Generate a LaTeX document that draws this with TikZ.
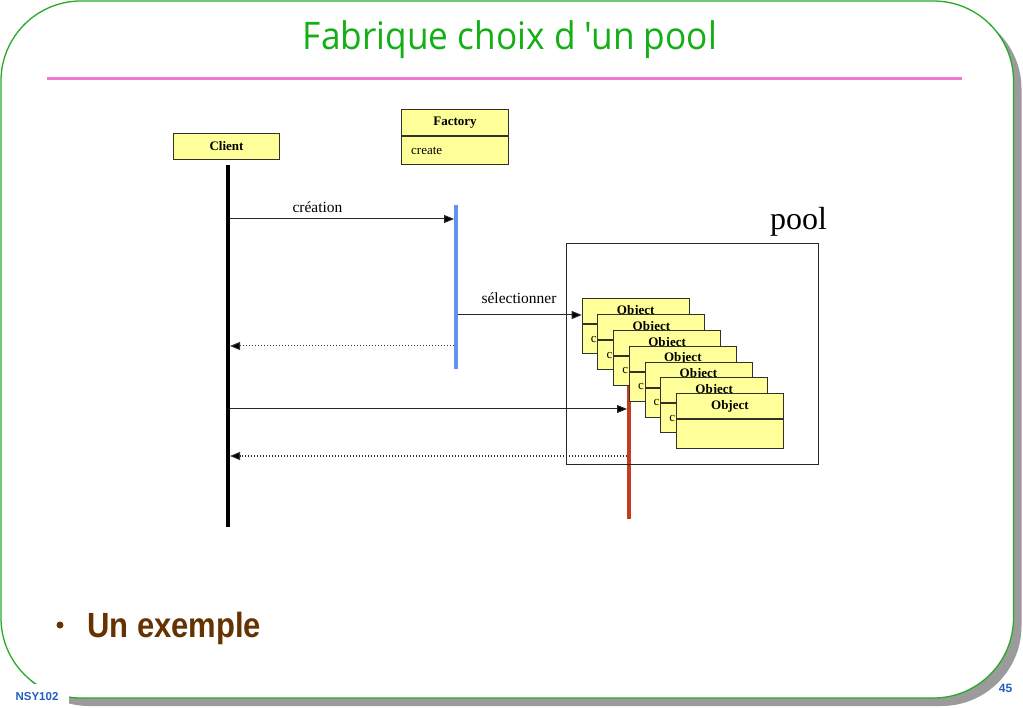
\documentclass[tikz,border=0pt]{standalone}
\usepackage{fontspec}
\setmainfont{Liberation Serif}
\newfontfamily\titlefont{Open Sans}
\newfontfamily\arialfont{Liberation Sans}
\usetikzlibrary{arrows.meta}
\definecolor{framegreen}{RGB}{40,170,40}
\definecolor{shadowgray}{RGB}{155,155,155}
\definecolor{rulepink}{RGB}{240,120,210}
\definecolor{titlegreen}{RGB}{20,175,20}
\definecolor{umlyellow}{RGB}{255,255,153}
\definecolor{boxborder}{RGB}{50,50,40}
\definecolor{lifeblue}{RGB}{100,145,240}
\definecolor{lifered}{RGB}{200,60,30}
\definecolor{bulletbrown}{RGB}{102,51,0}
\definecolor{footblue}{RGB}{30,95,190}
\tikzset{
  umlbox/.style={draw=boxborder, fill=umlyellow, line width=1pt, inner sep=0pt, font=\fontsize{13}{13}\selectfont},
  lifeline/.style={line width=4pt},
  msg/.style={line width=1pt, draw=black!85, -{Triangle[length=10pt,width=8pt,fill=black]}},
  ret/.style={line width=1pt, draw=black!80, dotted, -{Triangle[length=10pt,width=8pt,fill=black,sep=0pt]}},
  lbl/.style={font=\fontsize{15.5}{16}\selectfont, inner sep=0pt, anchor=base}
}
\begin{document}
\begin{tikzpicture}[x=1pt,y=-1pt]
\useasboundingbox (0,0) rectangle (1023,708);
% frame and shadow
\fill[shadowgray, rounded corners=80pt] (9,9) rectangle (1021.5,706);
\draw[framegreen, fill=white, line width=1.3pt, rounded corners=80pt] (1,1) rectangle (1013.5,698);
\draw[rulepink, line width=3pt] (47,78.5) -- (962,78.5);
% title
\node[anchor=base, inner sep=0pt, text=titlegreen] (title) at (510,50)
  {\resizebox{414pt}{\height}{\titlefont\fontsize{38}{40}\selectfont Fabrique choix d 'un pool}};
% lifelines (drawn first)
\coordinate (clTop) at (228,165);
\coordinate (clBot) at (228,527);
\coordinate (fTop) at (456,205);
\coordinate (fBot) at (456,369);
\coordinate (oTop) at (629,385);
\coordinate (oBot) at (629,519);
\draw[lifeline, black] (clTop) -- (clBot);
\draw[lifeline, lifeblue] (fTop) -- (fBot);
\draw[lifeline, lifered] (oTop) -- (oBot);
% pool
\draw[line width=1pt, black!85] (566,243.3) rectangle (818.3,464.3);
\node[lbl, font=\fontsize{32}{32}\selectfont] (poolLbl) at (798.5,230) {pool};
% client and factory
\node[umlbox, anchor=north west, minimum width=106pt, minimum height=26pt] (client) at (173,133) {\bfseries Client};
\node[umlbox, anchor=north west, minimum width=107pt, minimum height=26pt] (factH) at (401,109) {\bfseries Factory};
\node[umlbox, anchor=north west, minimum width=107pt, minimum height=28pt] (factB) at (factH.south west) {};
\node[font=\fontsize{13}{13}\selectfont, anchor=west, inner sep=0pt] (create) at ([xshift=10pt]factB.west) {create};
% objects
\foreach \i in {0,...,6} {
  \pgfmathsetmacro\ox{581.7+15.7*\i}
  \pgfmathsetmacro\oy{298.3+15.83*\i}
  \node[umlbox, anchor=north west, minimum width=107pt, minimum height=25pt] (objh\i) at (\ox,\oy) {\bfseries Object};
  \node[umlbox, anchor=north west, minimum width=107pt, minimum height=29pt] (objb\i) at (objh\i.south west) {};
  \ifnum\i<6
    \node[font=\fontsize{13}{13}\selectfont, anchor=west, inner sep=0pt] (objc\i) at ([xshift=9pt]objb\i.west) {c};
  \fi
}
% messages
\coordinate (m1s) at (230,219);
\coordinate (m1e) at (454,219);
\draw[msg] (m1s) -- (m1e);
\node[lbl] (lblCreation) at (317.5,213) {création};
\coordinate (m2s) at (458,315);
\draw[msg] (m2s) -- (m2s -| objh0.west);
\node[lbl] (lblSel) at (519,303.3) {sélectionner};
\coordinate (r1s) at (454,346);
\coordinate (r1e) at (230,346);
\draw[ret] (r1s) -- (r1e);
\coordinate (m3s) at (230,409);
\coordinate (m3e) at (627,409);
\draw[msg] (m3s) -- (m3e);
\coordinate (r2s) at (627,456);
\coordinate (r2e) at (230,456);
\draw[ret] (r2s) -- (r2e);
% bullet text
\fill[bulletbrown] (60,625) circle (3.5pt);
\node[anchor=base west, inner sep=0pt, text=bulletbrown] (exemple) at (87,637)
  {\resizebox{174pt}{\height}{\arialfont\bfseries\fontsize{35}{36}\selectfont Un exemple}};
% footer
\node[fill=white, inner sep=0pt, minimum width=69pt, minimum height=24pt, anchor=west] (footBg) at (0,696) {};
\node[text=footblue, font=\arialfont\bfseries\fontsize{11.5}{12}\selectfont, inner sep=0pt] (nsy) at (37,696.5) {NSY102};
\node[text=footblue, font=\arialfont\bfseries\fontsize{12}{12}\selectfont, inner sep=0pt] (pagenum) at (1005.5,688.7) {45};
\end{tikzpicture}
\end{document}
